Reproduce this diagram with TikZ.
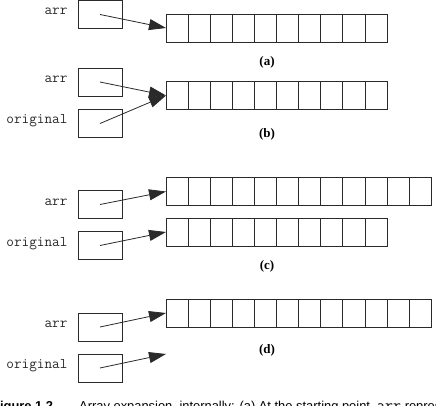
\documentclass[tikz,border=0pt]{standalone}
\usepackage{fontspec}
\setmainfont{Liberation Serif}
\setsansfont{Liberation Sans}
\usetikzlibrary{arrows.meta,positioning}
\definecolor{ink}{HTML}{2A2A2A}
\newcommand{\CellW}{22.1}
\newcommand{\CellH}{28pt}
\newcommand{\ArrX}{166}
\newcommand{\BoxX}{100}

\begin{document}
\begin{tikzpicture}[
    x=1pt, y=-1pt, ink,
    ref/.style={-{Triangle[length=17pt,width=11pt]}, line width=0.8pt, draw=ink},
    ptrbox/.style={draw=ink, line width=0.8pt, minimum width=44pt, minimum height=\CellH, inner sep=0pt, outer sep=0pt},
    cell/.style={draw=ink, line width=0.8pt, minimum width=\CellW pt, minimum height=\CellH, inner sep=0pt, outer sep=0pt, anchor=west},
    varname/.style={font=\ttfamily\fontsize{14.8}{17}\selectfont, text=ink, anchor=base east, yshift=-0.5pt},
    sublabel/.style={font=\bfseries\fontsize{13}{15}\selectfont, text=black},
  ]
\useasboundingbox (0,0) rectangle (436,406);
\clip (0,0) rectangle (436,406);

% --- (a): arr points at the array ----------------------------------------------
\node[ptrbox] (arrA) at (\BoxX, 14.5) {};
\node[left=7pt of arrA.west, varname] {arr};
\foreach \i in {1,...,10}
  \node[cell] (a\i) at ({\ArrX+(\i-1)*\CellW}, 28) {};
\draw[ref] (arrA.center) -- (a1.west);
\node[sublabel] (capA) at (267, 62) {(a)};

% --- (b): original points at the same array ------------------------------------
\node[ptrbox] (arrB) at (\BoxX, 82) {};
\node[ptrbox] (origB) at (\BoxX, 123.5) {};
\node[left=7pt of arrB.west, varname] {arr};
\node[left=7pt of origB.west, varname] {original};
\foreach \i in {1,...,10}
  \node[cell] (b\i) at ({\ArrX+(\i-1)*\CellW}, 95.5) {};
\draw[ref] (arrB.center) -- (b1.west);
\draw[ref] (origB.center) -- (b1.west);
\node[sublabel] (capB) at (267, 134.5) {(b)};

% --- (c): arr gets a bigger array ----------------------------------------------
\node[ptrbox] (arrC) at (\BoxX, 204.5) {};
\node[ptrbox] (origC) at (\BoxX, 245.5) {};
\node[left=7pt of arrC.west, varname] {arr};
\node[left=7pt of origC.west, varname] {original};
\foreach \i in {1,...,12}
  \node[cell] (c\i) at ({\ArrX+(\i-1)*\CellW}, 191.5) {};
\foreach \i in {1,...,10}
  \node[cell] (o\i) at ({\ArrX+(\i-1)*\CellW}, 232) {};
\draw[ref] (arrC.center) -- (c1.west);
\draw[ref] (origC.center) -- (o1.west);
\node[sublabel] (capC) at (267, 266) {(c)};

% --- (d): the old array is gone ------------------------------------------------
\node[ptrbox] (arrD) at (\BoxX, 327) {};
\node[ptrbox] (origD) at (\BoxX, 368) {};
\node[left=7pt of arrD.west, varname] {arr};
\node[left=7pt of origD.west, varname] {original};
\foreach \i in {1,...,12}
  \node[cell] (d\i) at ({\ArrX+(\i-1)*\CellW}, 313) {};
\coordinate (lostD) at (\ArrX, 354);
\draw[ref] (arrD.center) -- (d1.west);
\draw[ref] (origD.center) -- (lostD);
\node[sublabel] (capD) at (267, 350) {(d)};

% --- Caption, cut by the frame -------------------------------------------------
\node[anchor=base west, inner sep=0pt, text=black, font=\sffamily\bfseries\fontsize{12.9}{15}\selectfont] (fignum) at (-8, 410) {Figure 1.2};
\node[anchor=base west, inner sep=0pt, text=black, font=\sffamily\fontsize{12.9}{15}\selectfont] (figtext) at (79, 410)
  {Array expansion, internally: (a) At the starting point, {\ttfamily\fontsize{15.5}{17}\selectfont arr} represents};

\end{tikzpicture}
\end{document}
